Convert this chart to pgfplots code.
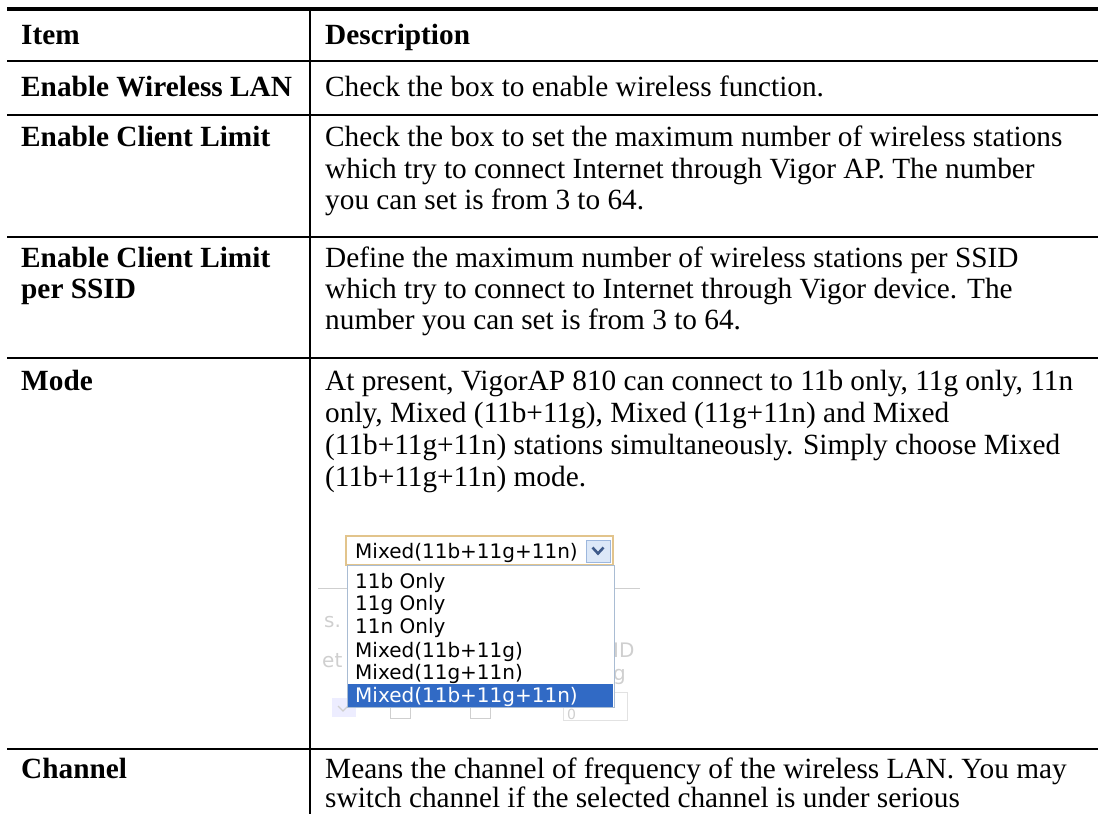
\documentclass[border=0pt]{standalone}
\usepackage{pgfplots}
\pgfplotsset{compat=1.18}
\usepackage{fontspec}
\setmainfont{Liberation Serif}
\newfontfamily\uifont{DejaVu Sans}
\definecolor{selblue}{HTML}{316AC5}
\definecolor{combobd}{HTML}{E2C48C}
\definecolor{listbd}{HTML}{A9BCD3}
\definecolor{btnfill}{HTML}{DCE8F8}
\definecolor{btnbd}{HTML}{9DB7DD}
\definecolor{chev}{HTML}{3E5A8A}
\definecolor{ghost}{HTML}{CFCFCF}
\tikzset{
  tx/.style={anchor=base west, inner sep=0pt, font=\fontsize{29.3bp}{31bp}\selectfont},
  it/.style={anchor=base west, inner sep=0pt, font=\fontsize{29.3bp}{31bp}\selectfont\bfseries},
  ui/.style={anchor=base west, inner sep=0pt, font=\uifont\fontsize{20bp}{23bp}\selectfont},
}
\begin{document}
\begin{tikzpicture}
\begin{axis}[at={(0,0)}, anchor=south west,
  width=1098bp, height=814bp, scale only axis,
  xmin=0, xmax=1098, ymin=0, ymax=814, y dir=reverse,
  hide axis, clip=false]
% table rules
\addplot[black, line width=4bp, mark=none] coordinates {(7,9) (1098,9)};
\addplot[black, line width=2bp, mark=none] coordinates {(7,61) (1098,61)};
\addplot[black, line width=2bp, mark=none] coordinates {(7,115) (1098,115)};
\addplot[black, line width=2bp, mark=none] coordinates {(7,237) (1098,237)};
\addplot[black, line width=2bp, mark=none] coordinates {(7,358) (1098,358)};
\addplot[black, line width=2bp, mark=none] coordinates {(7,749) (1098,749)};
\addplot[black, line width=2bp, mark=none] coordinates {(310,9) (310,814)};
% header
\node[it] at (axis cs:21,45) {Item};
\node[it] at (axis cs:325,45) {Description};
% row 1
\node[it] at (axis cs:21,97) {Enable Wireless LAN};
\node[tx] at (axis cs:325,97) {Check the box to enable wireless function.};
% row 2
\node[it] at (axis cs:21,147) {Enable Client Limit};
\node[tx] at (axis cs:325,147) {Check the box to set the maximum number of wireless stations};
\node[tx] at (axis cs:325,178) {which try to connect Internet through Vigor AP. The number};
\node[tx] at (axis cs:325,209) {you can set is from 3 to 64.};
% row 3
\node[it] at (axis cs:21,267) {Enable Client Limit};
\node[it] at (axis cs:21,298) {per SSID};
\node[tx] at (axis cs:325,267) {Define the maximum number of wireless stations per SSID};
\node[tx] at (axis cs:325,298) {which try to connect to Internet through Vigor device. The};
\node[tx] at (axis cs:325,329) {number you can set is from 3 to 64.};
% row 4
\node[it] at (axis cs:21,390) {Mode};
\node[tx] at (axis cs:325,390) {At present, VigorAP 810 can connect to 11b only, 11g only, 11n};
\node[tx] at (axis cs:325,422) {only, Mixed (11b+11g), Mixed (11g+11n) and Mixed};
\node[tx] at (axis cs:325,454) {(11b+11g+11n) stations simultaneously. Simply choose Mixed};
\node[tx] at (axis cs:325,486) {(11b+11g+11n) mode.};
% ghost background of screenshot
\addplot[ghost, line width=1bp, mark=none] coordinates {(318,588) (347,588)};
\addplot[ghost, line width=1bp, mark=none] coordinates {(614,588) (640,588)};
\addplot[draw=none, fill=blue!7, mark=none] coordinates {(332,698) (356,698) (356,717) (332,717)} --cycle;
\addplot[ghost, line width=1.2bp, mark=none] coordinates {(338,706) (343,711) (348,706)};
\addplot[ghost, line width=1bp, mark=none] coordinates {(390,700) (410,700) (410,718) (390,718)} --cycle;
\addplot[ghost, line width=1bp, mark=none] coordinates {(470,700) (490,700) (490,718) (470,718)} --cycle;
\addplot[ghost!60, line width=1bp, mark=none] coordinates {(563,692) (627,692) (627,720) (563,720)} --cycle;
\node[ui, text=ghost, font=\uifont\fontsize{14bp}{16bp}\selectfont] at (axis cs:567,719) {0};
\node[ui, text=ghost] at (axis cs:324,627) {s.};
\node[ui, text=ghost] at (axis cs:322,667) {et};
\node[ui, text=ghost] at (axis cs:613,657) {ID};
\node[ui, text=ghost] at (axis cs:613,680) {g};
% combo box
\addplot[draw=combobd, fill=white, line width=1.3bp, mark=none] coordinates {(346,536) (613,536) (613,565) (346,565)} --cycle;
\addplot[draw=btnbd, fill=btnfill, line width=1bp, mark=none] coordinates {(586,540) (610,540) (610,562) (586,562)} --cycle;
\addplot[chev, line width=2.6bp, mark=none] coordinates {(592.5,547.5) (598,553.5) (603.5,547.5)};
\node[ui] at (axis cs:355,558) {Mixed(11b+11g+11n)};
% list
\addplot[draw=listbd, fill=white, line width=1bp, mark=none] coordinates {(347,565) (614,565) (614,707) (347,707)} --cycle;
\addplot[draw=none, fill=selblue, mark=none] coordinates {(348,684) (613,684) (613,707) (348,707)} --cycle;
\node[ui] at (axis cs:355,588) {11b Only};
\node[ui] at (axis cs:355,610) {11g Only};
\node[ui] at (axis cs:355,633) {11n Only};
\node[ui] at (axis cs:355,657) {Mixed(11b+11g)};
\node[ui] at (axis cs:355,679) {Mixed(11g+11n)};
\node[ui, text=white] at (axis cs:355,702) {Mixed(11b+11g+11n)};
% row 5
\node[it] at (axis cs:21,778) {Channel};
\node[tx] at (axis cs:325,778) {Means the channel of frequency of the wireless LAN. You may};
\node[tx] at (axis cs:325,807) {switch channel if the selected channel is under serious};
\end{axis}
\pgfresetboundingbox
\path[use as bounding box] (0,0) rectangle (1098bp,814bp);
\end{tikzpicture}
\end{document}
